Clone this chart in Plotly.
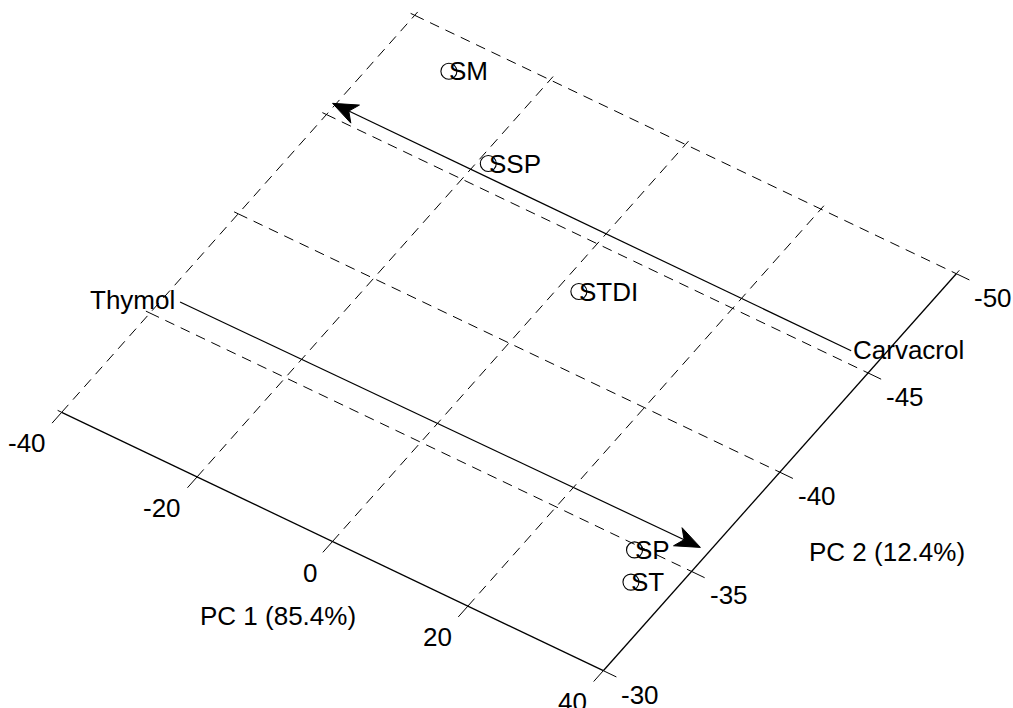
import numpy as np
import plotly.graph_objects as go

# ---------------- data ----------------
samples = ["SM", "SSP", "STDI", "SP", "ST"]
pc1_scores = [-31.3, -18.7, 2.5, 32.1, 34.7]
pc2_scores = [-48.6, -46.0, -43.0, -34.8, -33.6]

variables = ["Thymol", "Carvacrol"]
var_tail_pc1 = [-37.9, 36.2]
var_tail_pc2 = [-35.9, -45.5]
var_head_pc1 = [38.7, -40.4]
var_head_pc2 = [-36.0, -45.5]

pc1_ticks = [-40, -20, 0, 20, 40]
pc2_ticks = [-30, -35, -40, -45, -50]
pc1_title = "PC 1 (85.4%)"
pc2_title = "PC 2 (12.4%)"

# ---------------- view: oblique projection of the PC plane ----------------
W, H = 1013, 708
ORIGIN = np.array([61.7, 412.3])          # screen point of (pc1_ticks[0], pc2_ticks[0])
E1 = np.array([541.6, 258.4]) / 80.0      # screen step for +1 in PC1
E2 = np.array([-353.0, 397.0]) / 20.0     # screen step for +1 in PC2
P1_0, P2_0 = pc1_ticks[0], pc2_ticks[0]
P1_1, P2_1 = pc1_ticks[-1], pc2_ticks[-1]
u1 = E1 / np.linalg.norm(E1)
u2 = E2 / np.linalg.norm(E2)


def proj(p1, p2):
    return ORIGIN + (p1 - P1_0) * E1 + (p2 - P2_0) * E2


FONT = dict(family="Arial, Liberation Sans, sans-serif", size=26, color="black")
TICK = 14.5
MINI = 4.5

fig = go.Figure()


def add_segments(segs, dash=None, width=1.0):
    xs, ys = [], []
    for a, b in segs:
        xs += [a[0], b[0], None]
        ys += [a[1], b[1], None]
    fig.add_trace(go.Scatter(x=xs, y=ys, mode="lines", hoverinfo="skip",
                             line=dict(color="black", width=width, dash=dash),
                             showlegend=False))


# dashed grid
grid = []
for t in pc1_ticks[:-1]:
    grid.append((proj(t, P2_0), proj(t, P2_1)))
for t in pc2_ticks[1:]:
    grid.append((proj(P1_0, t), proj(P1_1, t)))
add_segments(grid, dash="10px,7px", width=1.0)

# solid axes + ticks
axes = [(proj(P1_0, P2_0), proj(P1_1, P2_0)), (proj(P1_1, P2_0), proj(P1_1, P2_1))]
ticks = []
for t in pc1_ticks:
    p = proj(t, P2_0)
    ticks.append((p, p + TICK * u2))          # outward from PC1 axis
    q = proj(t, P2_1)
    ticks.append((q, q - MINI * u2))          # small mark on far edge
for t in pc2_ticks:
    p = proj(P1_1, t)
    ticks.append((p, p + TICK * u1))          # outward from PC2 axis
    q = proj(P1_0, t)
    ticks.append((q, q - MINI * u1))
add_segments(axes, width=1.3)
add_segments(ticks, width=1.0)

# variable arrows
L_HEAD, W_HEAD, NOTCH = 25.0, 10.0, 18.0
for name, a1, a2, b1, b2 in zip(variables, var_tail_pc1, var_tail_pc2,
                                var_head_pc1, var_head_pc2):
    tail = proj(a1, a2)
    tip = proj(b1, b2)
    d = (tip - tail) / np.linalg.norm(tip - tail)
    n = np.array([-d[1], d[0]])
    notch = tip - NOTCH * d
    add_segments([(tail, notch)], width=1.2)
    poly = [tip, tip - L_HEAD * d + W_HEAD * n, notch, tip - L_HEAD * d - W_HEAD * n, tip]
    fig.add_trace(go.Scatter(x=[p[0] for p in poly], y=[p[1] for p in poly],
                             mode="lines", fill="toself", fillcolor="black",
                             line=dict(color="black", width=1), hoverinfo="skip",
                             showlegend=False))
    if d[0] > 0:
        fig.add_annotation(x=tail[0], y=tail[1], text=name, showarrow=False,
                           xanchor="right", yanchor="middle", xshift=-3, yshift=2,
                           font=FONT)
    else:
        fig.add_annotation(x=tail[0], y=tail[1], text=name, showarrow=False,
                           xanchor="left", yanchor="middle", xshift=0, yshift=1,
                           font=FONT)

# sample scores
pts = np.array([proj(a, b) for a, b in zip(pc1_scores, pc2_scores)])
fig.add_trace(go.Scatter(x=pts[:, 0], y=pts[:, 1], mode="markers", hoverinfo="skip",
                         marker=dict(symbol="circle-open", size=16, color="black",
                                     line=dict(width=1.1, color="black")),
                         showlegend=False))
for name, p in zip(samples, pts):
    fig.add_annotation(x=p[0], y=p[1], text=name, showarrow=False,
                       xanchor="left", yanchor="middle", xshift=-1.5, yshift=0, font=FONT)

# tick labels
for t in pc1_ticks:
    p = proj(t, P2_0)
    fig.add_annotation(x=p[0] - 14, y=p[1] + 31, text=str(t), showarrow=False,
                       xanchor="right", yanchor="middle", font=FONT)
for t in pc2_ticks:
    p = proj(P1_1, t)
    fig.add_annotation(x=p[0] + 16, y=p[1] + 24, text=str(t), showarrow=False,
                       xanchor="left", yanchor="middle", font=FONT)

# axis titles
c1 = proj((P1_0 + P1_1) / 2, P2_0)
fig.add_annotation(x=c1[0] - 55, y=c1[1] + 74, text=pc1_title, showarrow=False,
                   xanchor="center", yanchor="middle", font=FONT)
c2 = proj(P1_1, (P2_0 + P2_1) / 2)
fig.add_annotation(x=c2[0] + 107, y=c2[1] + 80, text=pc2_title, showarrow=False,
                   xanchor="center", yanchor="middle", font=FONT)

fig.update_layout(
    width=W, height=H, margin=dict(l=0, r=0, t=0, b=0),
    paper_bgcolor="white", plot_bgcolor="white",
    xaxis=dict(range=[0, W], visible=False, fixedrange=True),
    yaxis=dict(range=[H, 0], visible=False, fixedrange=True),
)
fig.write_html(
    "out.html",
    config={"displayModeBar": False},
    post_script="document.body.style.margin='0';document.body.style.overflow='hidden';",
)
